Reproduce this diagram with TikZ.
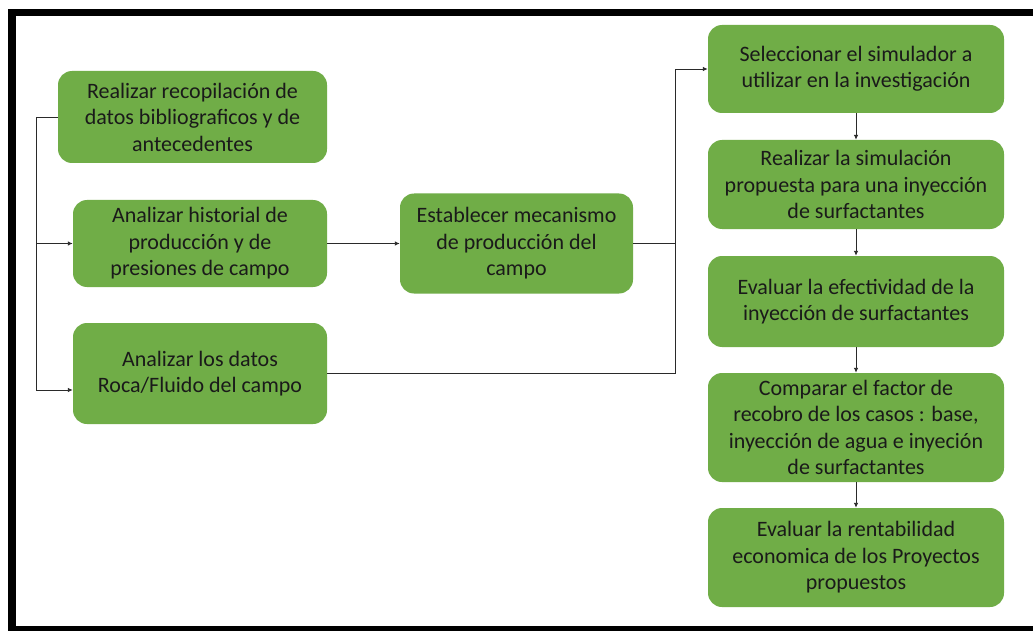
\documentclass[tikz,border=0pt]{standalone}
\usepackage{fontspec}
\setmainfont{Carlito}
\usetikzlibrary{arrows.meta}
\definecolor{boxgreen}{HTML}{70AD47}
\definecolor{txt}{HTML}{1A1A1A}
\definecolor{lin}{HTML}{2A2A2A}
\tikzset{
  stepbox/.style={fill=boxgreen, draw=none, rounded corners=14pt, align=center,
    text=txt, font=\fontsize{22}{26.5}\selectfont, inner sep=0pt, anchor=center},
  conn/.style={draw=lin, line width=0.9pt},
  arr/.style={conn, -{Latex[length=5pt,width=4.5pt]}}
}
\begin{document}
\begin{tikzpicture}[x=1pt,y=-1pt]
\useasboundingbox (0,0) rectangle (1033,631);
\fill[white] (0,0) rectangle (1033,631);
% frame
\draw[line width=7.5pt] (1045,12.5) -- (12,12.5) -- (12,629.5) -- (1045,629.5);

% left column
\node[stepbox, minimum width=269pt, minimum height=92pt] (A) at (192.5,117)
  {Realizar recopilación de\\datos bibliograficos y de\\antecedentes};
\node[stepbox, minimum width=254pt, minimum height=87pt] (B) at (200,243.5)
  {Analizar historial de\\producción y de\\presiones de campo};
\node[stepbox, minimum width=254pt, minimum height=101pt] (C) at (200,373.5)
  {Analizar los datos\\Roca/Fluido del campo};
% middle
\node[stepbox, minimum width=233pt, minimum height=100pt] (D) at (516.5,243.5)
  {Establecer mecanismo\\de producción del\\campo};
% right column
\node[stepbox, minimum width=296pt, minimum height=88pt] (E1) at (856,69)
  {Seleccionar el simulador a\\utilizar en la investigación};
\node[stepbox, minimum width=296pt, minimum height=89pt] (E2) at (856,184.5)
  {Realizar la simulación\\propuesta para una inyección\\de surfactantes};
\node[stepbox, minimum width=296pt, minimum height=91pt] (E3) at (856,301.5)
  {Evaluar la efectividad de la\\inyección de surfactantes};
\node[stepbox, minimum width=296pt, minimum height=109pt] (E4) at (856,427.5)
  {Comparar el factor de\\recobro de los casos : base,\\inyección de agua e inyeción\\de surfactantes};
\node[stepbox, minimum width=296pt, minimum height=99pt] (E5) at (856,557.5)
  {Evaluar la rentabilidad\\economica de los Proyectos\\propuestos};

% junctions
\coordinate (jA) at (36,117);
\coordinate (jB) at (36,243.5);
\coordinate (jC) at (36,390);
\coordinate (jD) at (675,243.5);
\coordinate (jE) at (675,69);
\coordinate (jF) at (675,373.5);

% connectors
\draw[arr] (A.west) -- (jA) -- (jC) -- (C.west |- jC);
\draw[arr] (jB) -- (B.west);
\draw[arr] (B.east) -- (D.west);
\draw[arr] (D.east) -- (jD) -- (jE) -- (E1.west);
\draw[conn] (C.east) -- (jF) -- (jD);
\draw[arr] (E1.south) -- (E2.north);
\draw[arr] (E2.south) -- (E3.north);
\draw[arr] (E3.south) -- (E4.north);
\draw[arr] (E4.south) -- (E5.north);
\end{tikzpicture}
\end{document}
